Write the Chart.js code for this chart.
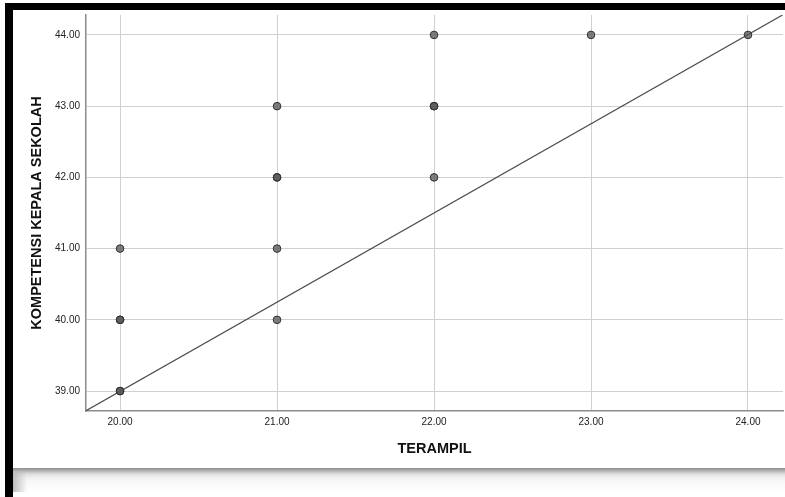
<!DOCTYPE html>
<html>
<head>
<meta charset="utf-8">
<script src="https://cdn.jsdelivr.net/npm/chart.js@4.4.1/dist/chart.umd.min.js"></script>
<style>
  html, body { margin: 0; padding: 0; background: #fff; }
  body { width: 785px; height: 497px; position: relative; overflow: hidden; }
  #frame {
    position: absolute; left: 5px; top: 3px; width: 800px; height: 489px;
    border-top: 7px solid #000; border-left: 8px solid #000; border-bottom: 5px solid #000;
    box-sizing: content-box;
  }
  #wrap { position: absolute; left: 13px; top: 10px; width: 775px; height: 458px; }
  #shadow {
    position: absolute; left: 13px; top: 468px; width: 772px; height: 24px;
    background: linear-gradient(to bottom, #8e8e8e 0px, #b4b4b4 3px, #dedede 6px, #f2f2f2 10px, #fafafa 16px, #fff 24px);
  }
  #shadowLeft {
    position: absolute; left: 13px; top: 471px; width: 14px; height: 21px;
    background: linear-gradient(to right, #bdbdbd, rgba(255,255,255,0));
  }
</style>
</head>
<body>
<div id="frame"></div>
<div id="wrap"><canvas id="chart"></canvas></div>
<div id="shadow"></div>
<div id="shadowLeft"></div>
<script>
// observed cases (duplicates kept, they show darker)
const terampil   = [20, 20, 20, 20, 20, 21, 21, 21, 21, 21, 22, 22, 22, 22, 23, 24];
const kompetensi = [39, 39, 40, 40, 41, 40, 41, 42, 42, 43, 42, 43, 43, 44, 44, 44];

// fit line endpoints
const fitX = [19.78, 24.22];
const fitY = [38.72, 44.28];

const xTicks = [20, 21, 22, 23, 24];
const yTicks = [39, 40, 41, 42, 43, 44];

const FONT = 'Liberation Sans, Arial, sans-serif';

const scatterPts = terampil.map((x, i) => ({ x: x, y: kompetensi[i] }));
const fitPts = fitX.map((x, i) => ({ x: x, y: fitY[i] }));

new Chart(document.getElementById('chart'), {
    type: 'scatter',
    data: {
        datasets: [
            {
                label: 'fit',
                type: 'line',
                data: fitPts,
                borderColor: '#4a4a4a',
                borderWidth: 1.2,
                pointRadius: 0,
                fill: false,
                order: 2
            },
            {
                label: 'cases',
                data: scatterPts,
                backgroundColor: 'rgba(85,85,85,0.75)',
                borderColor: '#2e2e2e',
                borderWidth: 1,
                pointRadius: 3.8,
                order: 1
            }
        ]
    },
    options: {
        responsive: true,
        maintainAspectRatio: false,
        animation: false,
        layout: { padding: { top: 5, right: 2, left: 0, bottom: 0 } },
        plugins: {
            legend: { display: false },
            tooltip: { enabled: false }
        },
        scales: {
            x: {
                type: 'linear',
                min: 19.783,
                max: 24.223,
                afterBuildTicks: (s) => { s.ticks = xTicks.map(v => ({ value: v })); },
                afterFit: (s) => { s.height = 57; s.paddingLeft = 0; s.paddingRight = 0; },
                grid: { color: '#d0d0d0', lineWidth: 1, drawTicks: false },
                border: { color: '#8c8c8c', width: 1.5 },
                ticks: {
                    color: '#222',
                    padding: 5,
                    maxRotation: 0,
                    font: { family: FONT, size: 10 },
                    callback: (v) => Number(v).toFixed(2)
                },
                title: {
                    display: true,
                    text: 'TERAMPIL',
                    color: '#111',
                    padding: { top: 0, bottom: 10 },
                    font: { family: FONT, size: 14.5, weight: 'bold' }
                }
            },
            y: {
                type: 'linear',
                min: 38.72,
                max: 44.28,
                afterBuildTicks: (s) => { s.ticks = yTicks.map(v => ({ value: v })); },
                afterFit: (s) => { s.width = 73; s.paddingTop = 0; s.paddingBottom = 0; },
                grid: { color: '#d0d0d0', lineWidth: 1, drawTicks: false },
                border: { color: '#8c8c8c', width: 1.5 },
                ticks: {
                    color: '#222',
                    padding: 6,
                    font: { family: FONT, size: 10 },
                    callback: (v) => Number(v).toFixed(2)
                },
                title: {
                    display: true,
                    text: 'KOMPETENSI KEPALA SEKOLAH',
                    color: '#111',
                    padding: { top: 15, bottom: 0 },
                    font: { family: FONT, size: 14.5, weight: 'bold' }
                }
            }
        }
    }
});
</script>
</body>
</html>
